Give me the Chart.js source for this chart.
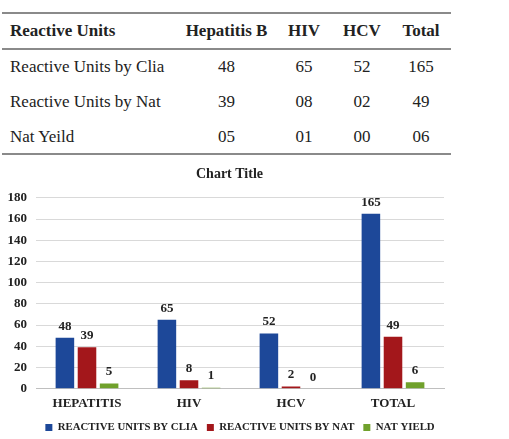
<!DOCTYPE html>
<html>
<head>
<meta charset="utf-8">
<script src="https://cdn.jsdelivr.net/npm/chart.js@4/dist/chart.umd.min.js"></script>
<style>
  html, body { margin:0; padding:0; background:#fff; }
  body { width:509px; height:439px; overflow:hidden; position:relative; font-family:"Liberation Serif", serif; color:#222; }
  .hl { position:absolute; left:2px; width:449px; height:2px; background:#8a8a8a; }
  .cell { position:absolute; height:20px; line-height:20px; font-size:17px; white-space:nowrap; }
  .c { text-align:center; width:100px; }
  .b { font-weight:bold; }
  #chartBox { position:absolute; left:0; top:160px; width:509px; height:283px; }
</style>
</head>
<body>
<div id="table"></div>
<div id="chartBox"><canvas id="c" width="509" height="283"></canvas></div>
<script>
// ---- data ----
const categories = ['HEPATITIS', 'HIV', 'HCV', 'TOTAL'];
const seriesNames = ['REACTIVE UNITS BY CLIA', 'REACTIVE UNITS BY NAT', 'NAT YIELD'];
const cliaValues = [48, 65, 52, 165];
const natValues = [39, 8, 2, 49];
const yieldValues = [5, 1, 0, 6];
const yMax = 180;
const yStep = 20;
const chartTitle = 'Chart Title';

const tableHeader = ['Reactive Units', 'Hepatitis B', 'HIV', 'HCV', 'Total'];
const tableRowLabels = ['Reactive Units by Clia', 'Reactive Units by Nat', 'Nat Yeild'];
const tableRows = [
  ['48', '65', '52', '165'],
  ['39', '08', '02', '49'],
  ['05', '01', '00', '06']
];

// ---- table ----
const colCenters = [226.5, 304, 362, 421];
const rowCenters = [31, 66.7, 101.5, 136.5];
const lineTops = [12, 47.5, 152.5];
const tbl = document.getElementById('table');
function addCell(text, x, yc, cls, centered) {
  const d = document.createElement('div');
  d.className = 'cell ' + cls;
  d.textContent = text;
  d.style.top = (yc - 10) + 'px';
  d.style.left = (centered ? x - 50 : x) + 'px';
  tbl.appendChild(d);
}
lineTops.forEach(t => { const l = document.createElement('div'); l.className = 'hl'; l.style.top = t + 'px'; tbl.appendChild(l); });
addCell(tableHeader[0], 10, rowCenters[0], 'b', false);
for (let i = 1; i < tableHeader.length; i++) addCell(tableHeader[i], colCenters[i - 1], rowCenters[0], 'b c', true);
tableRows.forEach((row, r) => {
  addCell(tableRowLabels[r], 10, rowCenters[r + 1], '', false);
  row.forEach((v, i) => addCell(v, colCenters[i], rowCenters[r + 1], 'c', true));
});

// ---- chart ----
const FONT = '"Liberation Serif", serif';
const TXT = '#222';
const valueLabels = {
  id: 'valueLabels',
  afterDatasetsDraw(chart) {
    const ctx = chart.ctx;
    ctx.save();
    ctx.font = 'bold 13px ' + FONT;
    ctx.fillStyle = TXT;
    ctx.textAlign = 'center';
    ctx.textBaseline = 'bottom';
    chart.data.datasets.forEach((ds, i) => {
      const meta = chart.getDatasetMeta(i);
      meta.data.forEach((bar, j) => {
        ctx.fillText(String(ds.data[j]), bar.x, bar.y - 5);
      });
    });
    ctx.restore();
  }
};

new Chart(document.getElementById('c'), {
  type: 'bar',
  data: {
    labels: categories,
    datasets: [
      { label: seriesNames[0], data: cliaValues, backgroundColor: '#1d4899' },
      { label: seriesNames[1], data: natValues, backgroundColor: '#a3171b' },
      { label: seriesNames[2], data: yieldValues, backgroundColor: '#70a12c' }
    ]
  },
  options: {
    responsive: false,
    animation: false,
    categoryPercentage: 0.65,
    barPercentage: 0.84,
    layout: { padding: { left: 0, right: 50, top: 0, bottom: 0 } },
    plugins: {
      title: {
        display: true, text: chartTitle, color: TXT,
        font: { family: FONT, size: 14, weight: 'bold' },
        padding: { top: 6, bottom: 15 }
      },
      legend: {
        position: 'bottom', fullSize: false,
        labels: {
          boxWidth: 7, boxHeight: 7, padding: 9, color: TXT,
          font: { family: FONT, size: 10.8, weight: 'bold' }
        }
      },
      tooltip: { enabled: false }
    },
    scales: {
      x: {
        grid: { display: false, drawTicks: false },
        border: { display: true, color: '#bfbfbf' },
        ticks: { color: TXT, padding: 7, font: { family: FONT, size: 13, weight: 'bold' } },
        afterFit(axis) { axis.height = 24.5; }
      },
      y: {
        min: 0, max: yMax,
        grid: { color: '#d9d9d9', drawTicks: false },
        border: { display: false },
        ticks: { stepSize: yStep, autoSkip: false, color: TXT, padding: 9, font: { family: FONT, size: 13, weight: 'bold' } },
        afterFit(axis) { axis.width = 36; }
      },
      yRight: {
        position: 'right', display: true,
        grid: { display: false, drawTicks: false },
        border: { display: false },
        ticks: { display: false },
        afterFit(axis) { axis.width = 15; }
      }
    }
  },
  plugins: [valueLabels]
});
</script>
</body>
</html>
